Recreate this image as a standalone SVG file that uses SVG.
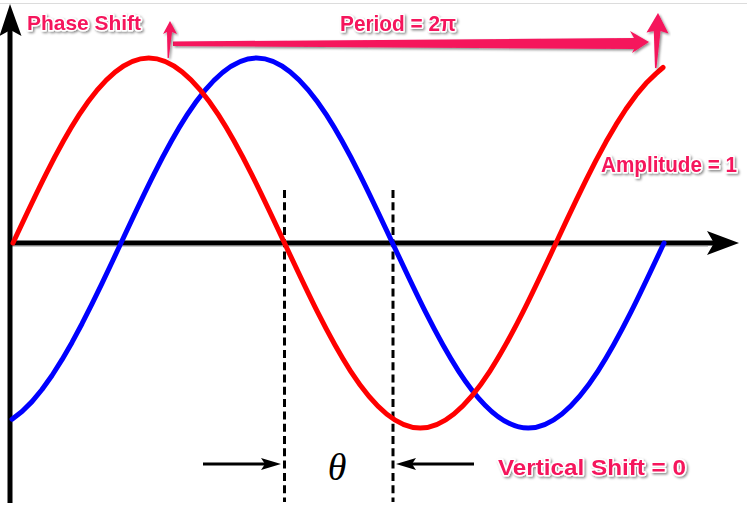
<svg xmlns="http://www.w3.org/2000/svg" width="747" height="511" viewBox="0 0 747 511">
<defs>
<filter id="shadow" x="-10%" y="-30%" width="120%" height="160%">
<feDropShadow dx="1.5" dy="1.5" stdDeviation="1" flood-color="#000" flood-opacity="0.45"/>
</filter>
<style>
.curve{fill:none;stroke-width:5;stroke-linecap:round;stroke-linejoin:round}
.axis{stroke:#000;stroke-width:5;fill:none}
.dash{stroke:#000;stroke-width:3;stroke-dasharray:8 4.3;fill:none}
.lbl{font-family:"Liberation Sans",Arial,sans-serif;font-weight:bold;fill:#f5145c;stroke:#fff;stroke-width:3;paint-order:stroke;stroke-linejoin:round;filter:url(#shadow)}
.pink{fill:#f5145c;filter:url(#shadow)}
.blk{fill:#000}
</style>
</defs>
<rect width="747" height="511" fill="#fff"/>
<line x1="0" y1="3.5" x2="747" y2="3.5" stroke="#dcdcdc" stroke-width="1"/>
<g id="axes">
<line x1="10" y1="246.5" x2="708" y2="246.5" stroke="#c8c8c8" stroke-width="1"/>
<line class="axis" x1="10" y1="30" x2="10" y2="503"/>
<polygon class="blk" points="10,4 21.5,36 10.5,30 -0.5,36"/>
<line class="axis" x1="10" y1="243" x2="716" y2="243"/>
<polygon class="blk" points="739,243 707,231 714,243 707,255"/>
</g>
<g id="guides">
<line class="dash" x1="284.5" y1="190" x2="284.5" y2="502"/>
<line class="dash" x1="393" y1="190" x2="393" y2="502"/>
</g>
<g id="blue-curve">
<path class="curve" stroke="#0000ff" d="M12,419.2 L22,411.5 L32,401.6 L42,389.5 L52,375.5 L62,359.7 L72,342.4 L82,323.7 L92,303.9 L102,283.3 L112,262.2 L121,243 C165.27,148.22 207.62,58 256.75,58 C305.88,58 348.23,148.22 392.5,243 C436.77,337.78 479.12,428 528.25,428 C577.38,428 619.73,337.78 664,243"/>
</g>
<g id="red-curve">
<path class="curve" stroke="#ff0000" d="M13,243 C57.27,148.22 99.62,58 148.75,58 C197.88,58 240.23,148.22 284.5,243 C328.77,337.78 371.12,428 420.25,428 C469.38,428 511.73,337.78 556,243 L566,221.65 L576,200.56 L586,180.06 L596,160.4 L606,141.84 L616,124.64 L626,109 L636,95.18 L646,83.3 L656,73.6 L663,67.5"/>
</g>
<g id="connectors">
<polygon class="pink" points="173,41.5 634,38 630,31 649,42 632,53 634,49 173,46"/>
<polygon class="pink" points="170,21 177,34 172,32 168.8,58 167.6,58 167,32 163,34"/>
<polygon class="pink" points="658,13 668.5,33.5 660.5,31 656.5,68 655,68 653.8,31 646.5,32.5"/>
<line x1="203" y1="464" x2="270" y2="464" stroke="#000" stroke-width="3"/>
<polygon class="blk" points="281,464 261,458 265,464 261,470"/>
<line x1="474" y1="464" x2="407" y2="464" stroke="#000" stroke-width="3"/>
<polygon class="blk" points="396,464 416,458 412,464 416,470"/>
</g>
<g id="label-phase-shift"><text class="lbl" x="27" y="29.5" font-size="20.5" textLength="114" lengthAdjust="spacingAndGlyphs">Phase Shift</text></g>
<g id="label-period"><text class="lbl" x="340" y="31" font-size="21.5" textLength="116" lengthAdjust="spacingAndGlyphs">Period = 2π</text></g>
<g id="label-amplitude"><text class="lbl" x="601" y="171.5" font-size="21.5" textLength="136" lengthAdjust="spacingAndGlyphs">Amplitude = 1</text></g>
<g id="label-vertical-shift"><text class="lbl" x="498" y="474.5" font-size="22.5" textLength="188" lengthAdjust="spacingAndGlyphs">Vertical Shift = 0</text></g>
<g id="label-theta"><text x="337" y="480" font-size="38" font-style="italic" text-anchor="middle" font-family="'Liberation Serif','Times New Roman',serif" fill="#000">θ</text></g>
</svg>
